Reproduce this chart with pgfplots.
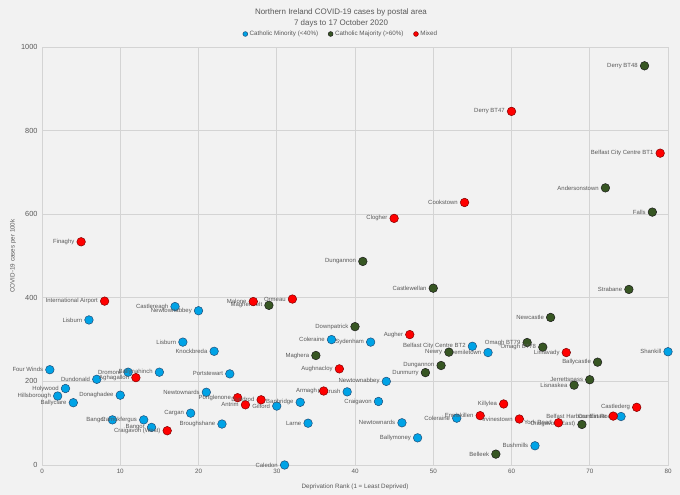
\documentclass[border=0pt]{standalone}
\usepackage{pgfplots}
\pgfplotsset{compat=1.18}
\usepackage{pgfplotstable}
\usepackage{fontspec}
\setmainfont{Liberation Sans}
\usetikzlibrary{backgrounds}
\definecolor{bgc}{HTML}{F2F2F2}
\definecolor{gridc}{HTML}{D4D4D4}
\definecolor{txt}{HTML}{595959}
\definecolor{cmin}{HTML}{00A3E6}
\definecolor{cminb}{HTML}{1F4E79}
\definecolor{cmaj}{HTML}{375623}
\definecolor{cmajb}{HTML}{1A1A1A}
\definecolor{cmix}{HTML}{FF0000}
\definecolor{cmixb}{HTML}{800000}

\pgfplotstableread[col sep=comma]{
x,y,label
1,228,Four Winds
2,165,Hillsborough
3,183,Holywood
4,149,Ballyclare
6,347,Lisburn
7,205,Dundonald
9,108,Bangor
10,167,Donaghadee
11,222,Dromore
13,108,Carrickfergus
14,90,Bangor
15,222,Ballynahinch
17,379,Castlereagh
18,294,Lisburn
19,124,Cargan
20,369,Newtownabbey
21,174,Newtownards
22,272,Knockbreda
23,98,Broughshane
24,218,Portstewart
30,141,Gilford
31,0,Caledon
33,150,Banbridge
34,100,Larne
37,300,Coleraine
39,175,Portrush
42,294,Sydenham
43,152,Craigavon
44,200,Newtownabbey
46,101,Newtownards
48,65,Ballymoney
53,112,Coleraine
55,284,Belfast City Centre BT2
57,269,Fivemiletown
63,46,Bushmills
74,116,Crumlin Road
80,271,Shankill
}\minority

\pgfplotstableread[col sep=comma]{
x,y,label
29,382,Magherafelt
35,262,Maghera
40,331,Downpatrick
41,487,Dungannon
49,221,Dunmurry
50,423,Castlewellan
51,238,Dungannon
52,270,Newry
58,26,Belleek
62,293,Omagh BT79
64,282,Omagh BT78
65,353,Newcastle
68,191,Lisnaskea
69,97,Craigavon (East)
70,204,Jerrettspass
71,246,Ballycastle
72,663,Andersonstown
75,420,Strabane
77,955,Derry BT48
78,605,Falls
}\majority

\pgfplotstableread[col sep=comma]{
x,y,label
5,534,Finaghy
8,392,International Airport
12,209,Aghagallon
16,82,Craigavon (West)
25,161,Portglenone
26,144,Antrim
27,391,Malone
28,156,Dundrod
32,397,Ormeau
36,177,Armagh
38,230,Aughnacloy
45,590,Clogher
47,312,Augher
54,628,Cookstown
56,118,Enniskillen
59,146,Killylea
60,846,Derry BT47
61,110,Irvinestown
66,101,York Road
67,269,Limavady
73,117,Belfast Harbour Estate
76,138,Castlederg
79,746,Belfast City Centre BT1
}\mixed

\begin{document}
\begin{tikzpicture}
\begin{axis}[
  scale only axis, width=626bp, height=418bp,
  xmin=0, xmax=80, ymin=0, ymax=1000,
  xtick={0,10,...,80}, ytick={0,200,...,1000},
  grid=major, major grid style={gridc, line width=0.6pt},
  axis line style={gridc, line width=0.6pt},
  tick style={draw=none},
  axis background/.style={fill=bgc},
  clip=false,
  /pgf/number format/assume math mode=true,
  /pgf/number format/set thousands separator={},
  xticklabel style={font=\fontsize{6.3}{7}\selectfont, text=txt, yshift=-1bp},
  yticklabel style={font=\fontsize{7.4}{9}\selectfont, text=txt, xshift=-1bp},
  every axis x label/.style={at={(axis description cs:0.5,0)}, yshift=-22bp, anchor=center},
  every axis y label/.style={at={(axis description cs:0,0.5)}, xshift=-29bp, rotate=90, anchor=center},
  label style={font=\fontsize{6.3}{7}\selectfont, text=txt},
  xlabel={Deprivation Rank (1 = Least Deprived)},
  ylabel={COVID-19 cases per 100k},
  title={Northern Ireland COVID-19 cases by postal area\\7 days to 17 October 2020},
  title style={at={(axis description cs:0.5,1)}, anchor=center, xshift=-14bp, yshift=23bp, align=center, font=\fontsize{8}{11}\selectfont, text=txt},
  legend style={at={(axis description cs:0.5,1)}, anchor=center, xshift=-14bp, yshift=13bp, legend columns=3, draw=none, fill=none, font=\fontsize{6.3}{7}\selectfont, text=txt, inner sep=0pt, /tikz/every even column/.append style={column sep=8bp}},
  legend image code/.code={\draw[#1, mark size=2.4bp] plot coordinates {(0bp,0bp)};},
  legend cell align=left,
  only marks,
  mark=*,
  mark size=4.3bp,
  nodes near coords,
  point meta=explicit symbolic,
  every node near coord/.append style={anchor=east, xshift=-6.5bp, inner sep=0pt, font=\fontsize{6}{7}\selectfont, text=txt},
]
\addplot[mark options={fill=cmin, draw=cminb, line width=0.5pt}] table[x=x, y=y, meta=label]{\minority};
\addlegendentry{Catholic Minority (<40\%)}
\addplot[mark options={fill=cmaj, draw=cmajb, line width=0.5pt}] table[x=x, y=y, meta=label]{\majority};
\addlegendentry{Catholic Majority (>60\%)}
\addplot[mark options={fill=cmix, draw=cmixb, line width=0.5pt}] table[x=x, y=y, meta=label]{\mixed};
\addlegendentry{Mixed}
\end{axis}
\begin{scope}[on background layer]
\fill[bgc] (-42bp,-30bp) rectangle (638bp,465bp);
\end{scope}
\end{tikzpicture}
\end{document}
